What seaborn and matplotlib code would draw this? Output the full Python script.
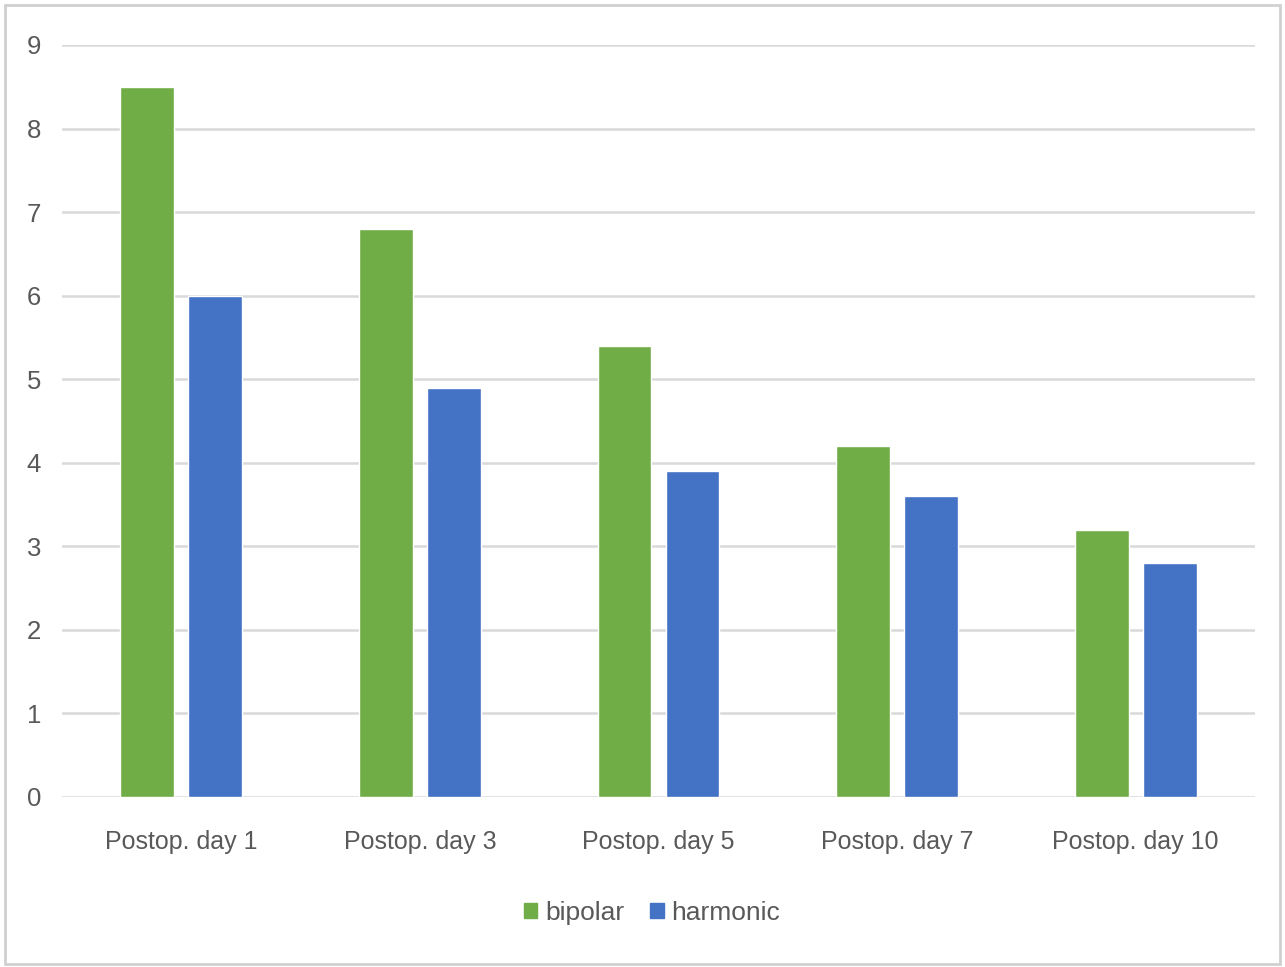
import matplotlib
matplotlib.use("Agg")
import matplotlib.pyplot as plt
from matplotlib.patches import Rectangle
import seaborn as sns
import pandas as pd

days = ["Postop. day 1", "Postop. day 3", "Postop. day 5", "Postop. day 7", "Postop. day 10"]
bipolar = [8.5, 6.8, 5.4, 4.2, 3.2]
harmonic = [6.0, 4.9, 3.9, 3.6, 2.8]
series_names = ["bipolar", "harmonic"]
y_ticks = [0, 1, 2, 3, 4, 5, 6, 7, 8, 9]

df = pd.DataFrame({
    "day": days * 2,
    "value": bipolar + harmonic,
    "series": [series_names[0]] * len(days) + [series_names[1]] * len(days),
})

sns.set_theme(style="white")
plt.rcParams["font.family"] = ["Liberation Sans Narrow", "Liberation Sans", "DejaVu Sans"]

text_color = "#595959"
grid_color = "#D9D9D9"
palette = {"bipolar": "#70AD47", "harmonic": "#4472C4"}

fig = plt.figure(figsize=(12.85, 9.67), dpi=100)
ax = fig.add_axes([62 / 1285, 1 - 797 / 967, (1255 - 62) / 1285, (797 - 45) / 967])

sns.barplot(data=df, x="day", y="value", hue="series", palette=palette,
            order=days, hue_order=series_names, width=0.57, gap=0.21,
            saturation=1, ax=ax, legend=False, zorder=3)

ax.set_ylim(0, 9)
ax.set_xlim(-0.5, 4.5)
ax.set_yticks(y_ticks)
ax.set_yticklabels([str(t) for t in y_ticks])
ax.yaxis.grid(True, color=grid_color, linewidth=1.8, zorder=0)
ax.set_axisbelow(True)
for s in ax.spines.values():
    s.set_visible(False)
ax.set_xlabel("")
ax.set_ylabel("")
ax.tick_params(axis="y", length=0, pad=15, labelsize=18.5, labelcolor=text_color)
ax.tick_params(axis="x", length=0, pad=24, labelsize=18, labelcolor=text_color)

handles = [Rectangle((0, 0), 1, 1, color=palette[n]) for n in series_names]
fig.legend(handles, series_names, loc="center", bbox_to_anchor=(652 / 1285, 1 - 913 / 967),
           ncol=2, frameon=False, fontsize=19, labelcolor=text_color,
           handlelength=0.5, handleheight=0.5, handletextpad=0.3, columnspacing=1.0)

fig.patches.append(Rectangle((5 / 1285, 3 / 967), 1 - 10 / 1285, 1 - 8 / 967,
                             transform=fig.transFigure, fill=False,
                             edgecolor="#D0D0D0", linewidth=2))

fig.savefig("out.png", dpi=100, facecolor="white")
